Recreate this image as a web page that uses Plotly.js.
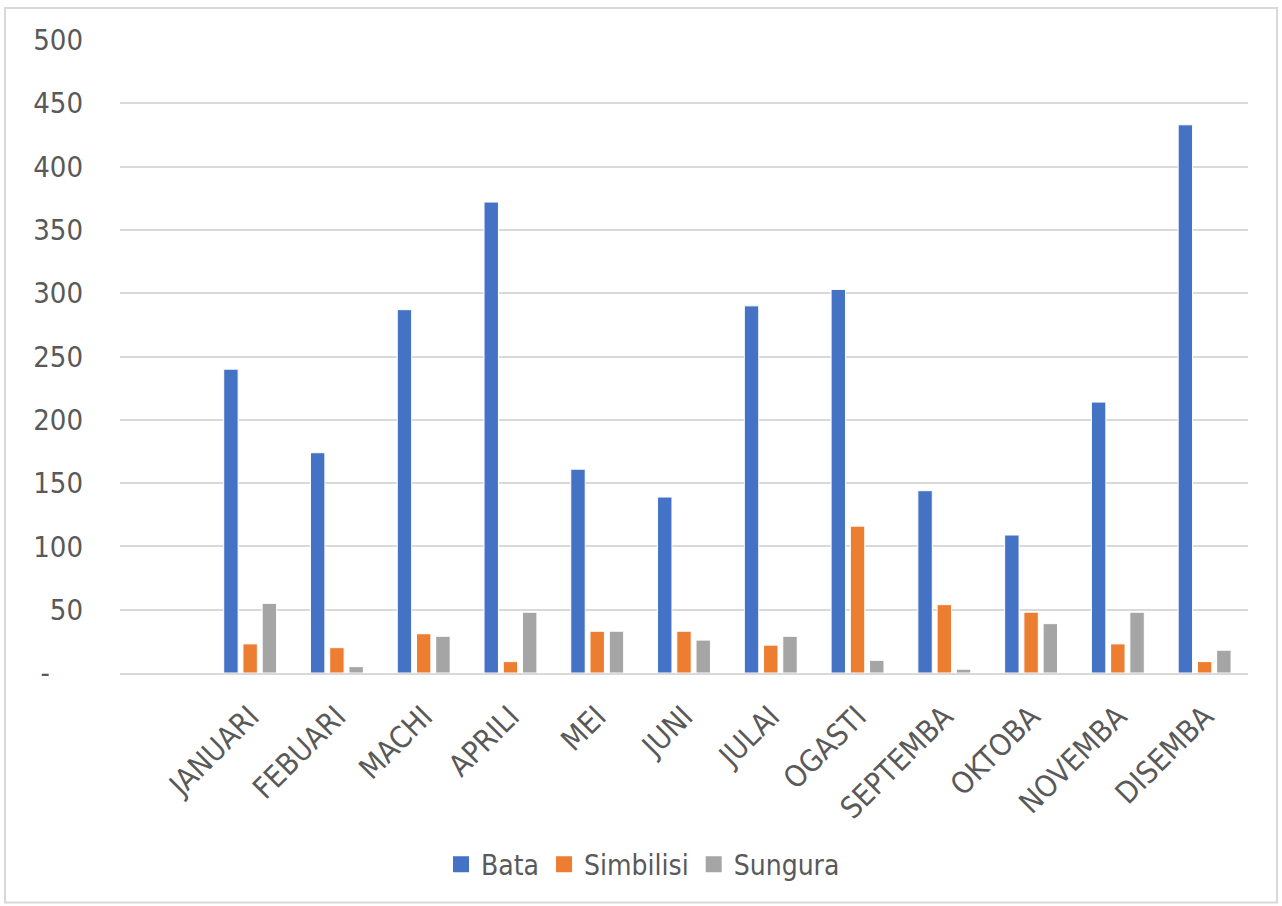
<!DOCTYPE html>
<html>
<head>
<meta charset="utf-8">
<script src="https://cdn.plot.ly/plotly-3.0.1.min.js"></script>
<style>
  html, body { margin: 0; padding: 0; background: #ffffff; }
  #chart { width: 1282px; height: 906px; }
</style>
</head>
<body>
<div id="chart"></div>
<script>
const months = ["JANUARI", "FEBUARI", "MACHI", "APRILI", "MEI", "JUNI", "JULAI", "OGASTI", "SEPTEMBA", "OKTOBA", "NOVEMBA", "DISEMBA"];
const bata = [240, 174, 287, 372, 161, 139, 290, 303, 144, 109, 214, 433];
const simbilisi = [23, 20, 31, 9, 33, 33, 22, 116, 54, 48, 23, 9];
const sungura = [55, 5, 29, 48, 33, 26, 29, 10, 3, 39, 48, 18];
const seriesNames = ["Bata", "Simbilisi", "Sungura"];
const seriesColors = ["#4472C4", "#ED7D31", "#A5A5A5"];
const yTickVals = [0, 50, 100, 150, 200, 250, 300, 350, 400, 450, 500];
const yTickText = ["-\u00a0\u00a0\u00a0\u00a0", "50", "100", "150", "200", "250", "300", "350", "400", "450", "500"];

const FONT = "DejaVu Sans Condensed, DejaVu Sans, sans-serif";
const TXT = "#595959";
const GRID = "#d9d9d9";

const values = [bata, simbilisi, sungura];
const data = [];
values.forEach(function (vals, i) {
  data.push({
    type: "bar", name: seriesNames[i], x: months, y: vals,
    marker: { color: seriesColors[i], line: { color: "#ffffff", width: 1 } },
    showlegend: false, legendgroup: seriesNames[i]
  });
});
// legend entries with larger square swatches
values.forEach(function (vals, i) {
  data.push({
    type: "scatter", mode: "markers", name: seriesNames[i],
    x: [null], y: [null], legendgroup: seriesNames[i],
    marker: { symbol: "square", size: 16, color: seriesColors[i] },
    showlegend: true
  });
});

const PL = 120, PR = 1248, PT = 40, PB = 673.3;
const pw = PR - PL, ph = PB - PT;
function px(x) { return (x - PL) / pw; }
function py(y) { return (PB - y) / ph; }

const layout = {
  width: 1282, height: 906,
  margin: { l: 120, r: 34, t: 40, b: 233, autoexpand: false },
  paper_bgcolor: "#ffffff", plot_bgcolor: "#ffffff",
  font: { family: FONT, color: TXT, size: 27 },
  barmode: "group",
  bargap: 0.335,
  bargroupgap: 0.25,
  xaxis: {
    type: "category",
    range: [-1.5, 11.5],
    showgrid: false,
    zeroline: false,
    showline: true, linecolor: GRID, linewidth: 2,
    ticks: "",
    tickangle: -45,
    ticklabelstandoff: 12,
    tickfont: { family: FONT, size: 30, color: TXT },
    automargin: false
  },
  yaxis: {
    range: [0, 500],
    tickmode: "array", tickvals: yTickVals, ticktext: yTickText,
    showgrid: true, gridcolor: GRID, gridwidth: 2,
    zeroline: false,
    showline: false,
    ticks: "",
    ticklabelstandoff: 36,
    tickfont: { family: FONT, size: 29, color: TXT },
    automargin: false
  },
  legend: {
    orientation: "h",
    x: px(643), xanchor: "center",
    y: py(865), yanchor: "middle",
    itemgap: 27,
    font: { family: FONT, size: 28, color: TXT },
    itemclick: false, itemdoubleclick: false
  },
  shapes: [{
    type: "rect", xref: "paper", yref: "paper",
    x0: px(5), x1: px(1277), y0: py(903), y1: py(8),
    line: { color: GRID, width: 2 }, fillcolor: "rgba(0,0,0,0)", layer: "below"
  }],
  showlegend: true
};

Plotly.newPlot("chart", data, layout, { displayModeBar: false, staticPlot: true });
</script>
</body>
</html>
